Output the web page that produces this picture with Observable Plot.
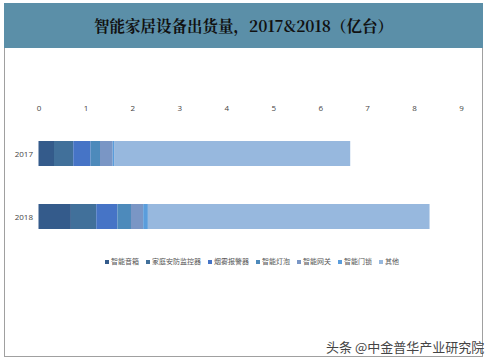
<!DOCTYPE html>
<html>
<head>
<meta charset="utf-8">
<script src="https://cdn.jsdelivr.net/npm/d3@7"></script>
<script src="https://cdn.jsdelivr.net/npm/@observablehq/plot@0.6"></script>
<style>
  body { margin: 0; background: #fff; font-family: "Noto Sans CJK SC", "Noto Sans", sans-serif; }
  #wrap { position: relative; width: 488px; height: 362px; overflow: hidden; }
  #frame { position: absolute; left: 4px; top: 3px; width: 477px; height: 353px; border: 1px solid #a0a0a0; border-top: none; }
  #title { position: absolute; left: 4px; top: 3px; width: 479px; height: 45px; background: #5b8fa8;
           color: #111; font-weight: bold; font-size: 15.5px; line-height: 45px; text-align: center;
           font-family: "Noto Serif CJK SC", "Noto Sans CJK SC", serif; }
  #chart { position: absolute; left: 0; top: 90px; }
  #legend { position: absolute; left: 105px; top: 256px; font-size: 7px; color: #555; white-space: nowrap; }
  #legend span.item { display: inline-block; margin-right: 7px; }
  #legend span.sw { display: inline-block; width: 4px; height: 4px; margin-right: 2px; vertical-align: middle; }
  #mark { position: absolute; left: 326px; top: 337px; font-size: 13px; color: #444; }
</style>
</head>
<body>
<div id="wrap">
  <div id="frame"></div>
  <div id="title">智能家居设备出货量，2017&amp;2018（亿台）</div>
  <div id="chart"></div>
  <div id="legend"></div>
  <div id="mark">头条 @中金普华产业研究院</div>
</div>
<script>
const years = ["2017", "2018"];
const categories = ["智能音箱", "家庭安防监控器", "烟雾报警器", "智能灯泡", "智能网关", "智能门锁", "其他"];
const colors = ["#345b8b", "#41709a", "#4674c6", "#4d8abb", "#7a96c5", "#5a9ddc", "#97b8de"];
const values2017 = [0.33, 0.41, 0.37, 0.20, 0.27, 0.03, 5.03];
const values2018 = [0.69, 0.54, 0.45, 0.29, 0.26, 0.10, 6.00];
const xTicks = [0, 1, 2, 3, 4, 5, 6, 7, 8, 9];

const data = [];
categories.forEach((c, i) => {
  data.push({year: "2017", cat: c, value: values2017[i]});
  data.push({year: "2018", cat: c, value: values2018[i]});
});

const chart = Plot.plot({
  width: 488,
  height: 170,
  marginLeft: 38.5,
  marginRight: 27,
  marginTop: 32,
  marginBottom: 12,
  style: {fontFamily: "'Open Sans', 'Noto Sans', sans-serif", fontSize: "8px", color: "#444"},
  x: {domain: [0, 9], axis: "top", ticks: xTicks, tickSize: 0, tickPadding: 12, label: null},
  y: {domain: years, paddingInner: 0.6, paddingOuter: 0.3, align: 0.5, tickSize: 0, tickPadding: 6, label: null},
  color: {domain: categories, range: colors},
  marks: [
    Plot.barX(data, Plot.stackX({x: "value", y: "year", fill: "cat", order: categories}))
  ]
});
document.getElementById("chart").appendChild(chart);

const legend = document.getElementById("legend");
categories.forEach((c, i) => {
  const item = document.createElement("span");
  item.className = "item";
  const sw = document.createElement("span");
  sw.className = "sw";
  sw.style.background = colors[i];
  item.appendChild(sw);
  item.appendChild(document.createTextNode(c));
  legend.appendChild(item);
});
</script>
</body>
</html>
